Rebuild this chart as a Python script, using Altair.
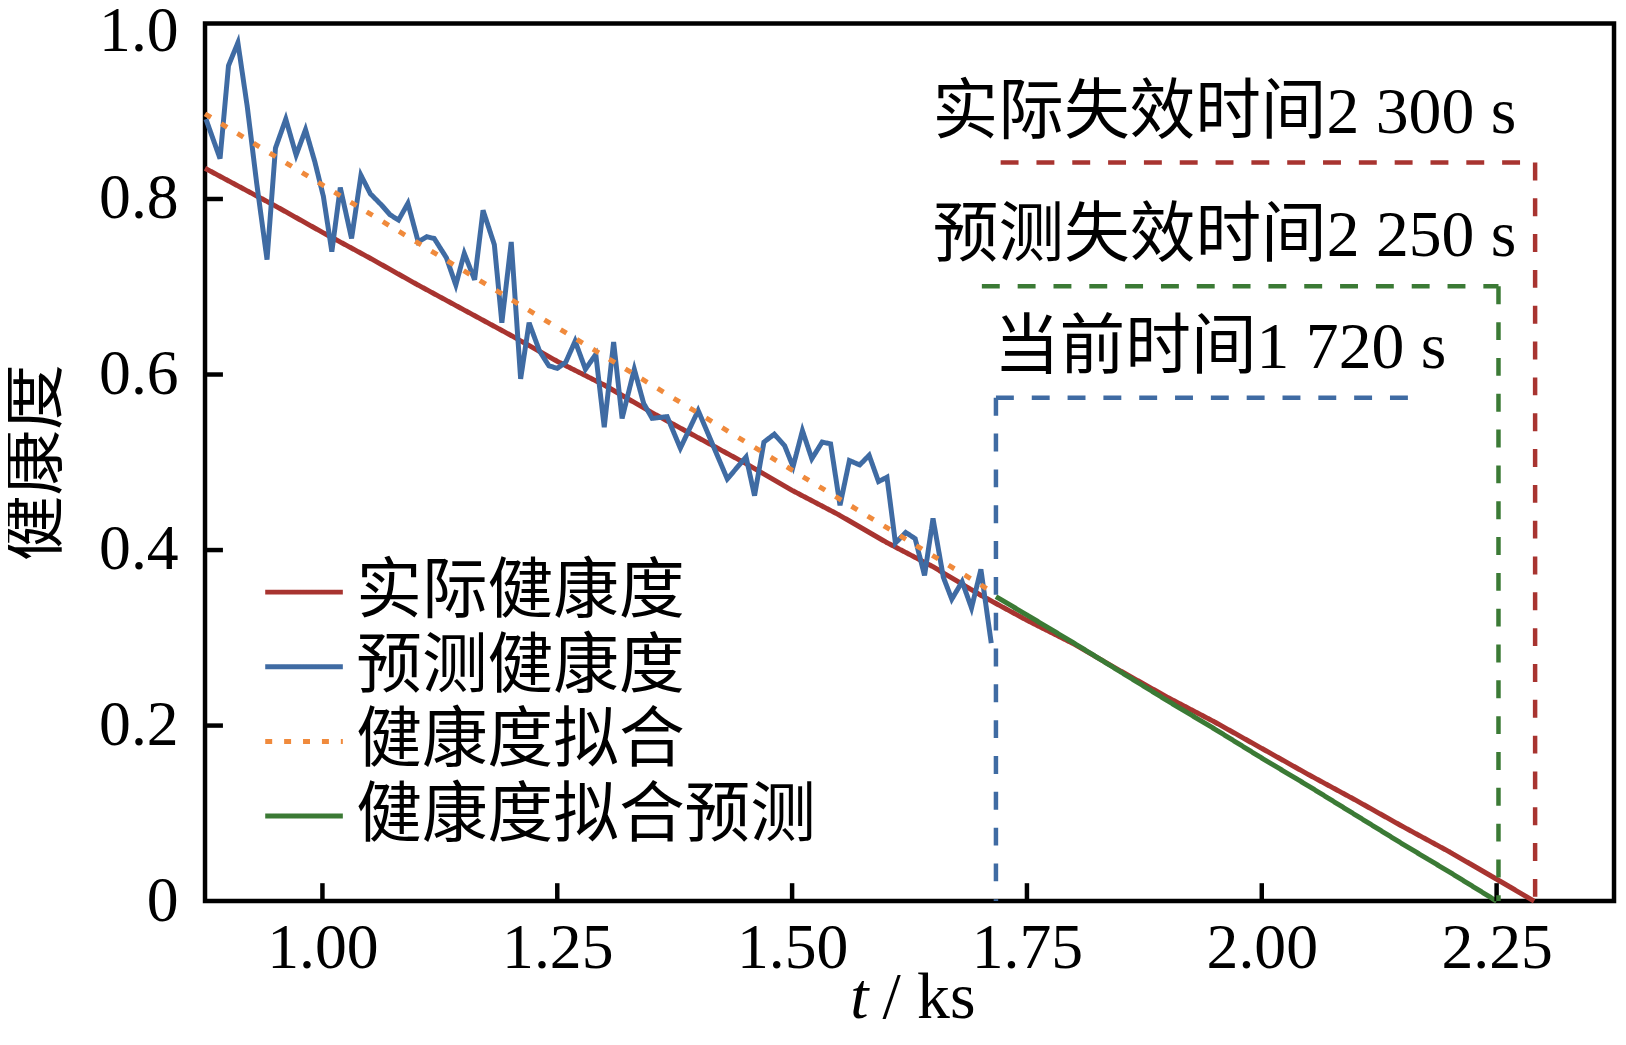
import altair as alt
import pandas as pd

# ---------------- data (t in ks, health index) ----------------
series_names = ["实际健康度", "预测健康度", "健康度拟合", "健康度拟合预测"]
series_colors = ["#A83430", "#3F6BA3", "#F08A3C", "#3B7A35"]

actual_t = [0.875, 0.95, 1.00, 1.05, 1.10, 1.15, 1.20, 1.25, 1.30, 1.35, 1.40,
            1.45, 1.50, 1.55, 1.60, 1.65, 1.70, 1.75, 1.80, 1.85, 1.90, 1.95,
            2.00, 2.05, 2.10, 2.15, 2.20, 2.25, 2.29]
actual_h = [0.835, 0.792, 0.762, 0.733, 0.703, 0.674, 0.645, 0.615, 0.588, 0.557, 0.528,
            0.499, 0.468, 0.440, 0.409, 0.381, 0.349, 0.320, 0.293, 0.262, 0.232, 0.204,
            0.174, 0.144, 0.115, 0.085, 0.056, 0.025, 0.0]

pred_t = [0.876, 0.891, 0.900, 0.910, 0.920, 0.930, 0.941, 0.950, 0.961, 0.972,
          0.982, 0.992, 1.001, 1.010, 1.019, 1.031, 1.041, 1.051, 1.063, 1.072,
          1.081, 1.091, 1.102, 1.111, 1.119, 1.132, 1.142, 1.151, 1.162, 1.171,
          1.183, 1.191, 1.201, 1.211, 1.220, 1.231, 1.241, 1.250, 1.259, 1.269,
          1.280, 1.291, 1.300, 1.310, 1.319, 1.332, 1.342, 1.351, 1.367, 1.381,
          1.400, 1.431, 1.451, 1.460, 1.470, 1.481, 1.492, 1.501, 1.511, 1.521,
          1.532, 1.541, 1.551, 1.561, 1.572, 1.582, 1.592, 1.601, 1.610, 1.621,
          1.631, 1.641, 1.650, 1.661, 1.670, 1.681, 1.691, 1.701, 1.712]
pred_h = [0.891, 0.846, 0.952, 0.978, 0.905, 0.818, 0.731, 0.858, 0.891, 0.850,
          0.879, 0.842, 0.803, 0.740, 0.813, 0.755, 0.827, 0.806, 0.793, 0.782,
          0.776, 0.795, 0.751, 0.757, 0.755, 0.733, 0.702, 0.738, 0.708, 0.787,
          0.748, 0.659, 0.751, 0.595, 0.659, 0.627, 0.610, 0.607, 0.614, 0.638,
          0.606, 0.623, 0.540, 0.637, 0.550, 0.606, 0.567, 0.550, 0.552, 0.516,
          0.559, 0.481, 0.506, 0.462, 0.523, 0.532, 0.519, 0.495, 0.536, 0.504,
          0.523, 0.521, 0.451, 0.502, 0.497, 0.508, 0.478, 0.483, 0.408, 0.420,
          0.413, 0.371, 0.436, 0.369, 0.344, 0.364, 0.334, 0.378, 0.294]

fit_t = [0.875, 1.0, 1.1, 1.2, 1.3, 1.4, 1.5, 1.6, 1.7, 1.717]
fit_h = [0.897, 0.816, 0.751, 0.686, 0.621, 0.556, 0.491, 0.426, 0.361, 0.349]

fitpred_t = [1.717, 1.75, 1.80, 1.85, 1.90, 1.95, 2.00, 2.05, 2.10, 2.15, 2.20, 2.25]
fitpred_h = [0.347, 0.326, 0.294, 0.261, 0.228, 0.196, 0.163, 0.131, 0.098, 0.065, 0.033, 0.0]

event_labels = ["当前时间1 720 s", "预测失效时间2 250 s", "实际失效时间2 300 s"]
event_t = [1.717, 2.252, 2.291]
event_level = [0.5735, 0.7005, 0.8416]
hline_start = [1.717, 1.702, 1.722]
hline_end = [2.156, 2.252, 2.291]

x_ticks = [1.00, 1.25, 1.50, 1.75, 2.00, 2.25]
y_ticks = [0, 0.2, 0.4, 0.6, 0.8, 1.0]

# ---------------- build tables ----------------
frames = []
for name, ts, hs in zip(series_names,
                        [actual_t, pred_t, fit_t, fitpred_t],
                        [actual_h, pred_h, fit_h, fitpred_h]):
    frames.append(pd.DataFrame({"t": ts, "h": hs, "series": name}))
lines_df = pd.concat(frames, ignore_index=True)

ev_df = pd.DataFrame({"label": event_labels, "t": event_t, "level": event_level,
                      "hs": hline_start, "he": hline_end})
xt_df = pd.DataFrame({"tick": x_ticks})
yt_df = pd.DataFrame({"tick": [v for v in y_ticks if 0 < v < 1]})

FONT = "'Liberation Serif', 'Noto Sans CJK SC'"
W, H = 1416, 882
FS = 64      # tick labels
FT = 66      # titles, legend, annotations

xscale = alt.Scale(domain=[0.875, 2.375], nice=False, zero=False)
yscale = alt.Scale(domain=[0, 1], nice=False, zero=False)

x_axis = alt.Axis(orient="bottom", values=x_ticks, format=".2f", title="/ ks",
                  labelFont=FONT, labelFontSize=FS, labelColor="black",
                  labelBaseline="alphabetic", labelPadding=67, labelOverlap=False,
                  labelFlush=False, ticks=False, domain=False, grid=False,
                  titleFont=FONT, titleFontSize=FT, titleFontWeight="normal",
                  titleColor="black", titleX=727, titleY=117, titleAlign="center",
                  titleBaseline="alphabetic", titleAnchor="start")
y_axis = alt.Axis(values=y_ticks,
                  labelExpr="datum.value == 0 ? '0' : format(datum.value, '.1f')",
                  labelFont=FONT, labelFontSize=FS, labelColor="black",
                  labelPadding=27, labelOverlap=False, labelFlush=False,
                  labelOffset={"condition": {"test": "datum.value == 1", "value": 8},
                               "value": 0},
                  ticks=False, domain=False, grid=False,
                  title="健康度", titleFont=FONT, titleFontSize=FT,
                  titleFontWeight="normal", titleColor="black",
                  titleX=-170, titleY=441, titleAngle=270, titleAlign="center",
                  titleBaseline="middle", titleAnchor="start")

legend = alt.Legend(orient="none", legendX=58, legendY=530, title=None,
                    symbolType="stroke", symbolSize=6084, symbolStrokeWidth=5,
                    labelFont=FONT, labelFontSize=FT, labelColor="black",
                    labelOffset=11, rowPadding=-4, padding=0, labelLimit=0)

lines = alt.Chart(lines_df).mark_line(strokeWidth=5).encode(
    x=alt.X("t:Q", scale=xscale, axis=x_axis),
    y=alt.Y("h:Q", scale=yscale, axis=y_axis),
    color=alt.Color("series:N", scale=alt.Scale(domain=series_names, range=series_colors),
                    legend=legend),
    strokeDash=alt.StrokeDash("series:N",
                              scale=alt.Scale(domain=series_names,
                                              range=[[1, 0], [1, 0], [7, 12], [1, 0]]),
                              legend=legend),
)

# inward ticks (x) + italic "t" title via a second bottom axis
xticks_layer = alt.Chart(xt_df).mark_rule(color="black", strokeWidth=4.5).encode(
    x=alt.X("tick:Q", scale=xscale,
            axis=alt.Axis(orient="bottom", title="t", titleFontStyle="italic",
                          titleFont=FONT, titleFontSize=FT, titleFontWeight="normal",
                          titleColor="black", titleX=657, titleY=117,
                          titleAlign="center", titleBaseline="alphabetic",
                          titleAnchor="start", labels=False, ticks=False,
                          domain=False, grid=False)),
    y=alt.value(H - 18), y2=alt.value(H),
)
yticks_layer = alt.Chart(yt_df).mark_rule(color="black", strokeWidth=4.5).encode(
    y=alt.Y("tick:Q", scale=yscale, axis=None),
    x=alt.value(0), x2=alt.value(18),
)

ev_colors = [series_colors[1], series_colors[3], series_colors[0]]
ev_align = ["left", "right", "right"]
ev_dx = [-2, 18, -19]

ev_layers = []
for i in range(len(event_labels)):
    d = ev_df.iloc[[i]]
    base = alt.Chart(d)
    v = base.mark_rule(color=ev_colors[i], strokeWidth=4.5, strokeDash=[18, 18]).encode(
        x=alt.X("t:Q", scale=xscale, axis=None),
        y=alt.Y("level:Q", scale=yscale, axis=None),
        y2=alt.datum(0),
    )
    hz = base.mark_rule(color=ev_colors[i], strokeWidth=4.5, strokeDash=[18, 18]).encode(
        x=alt.X("hs:Q", scale=xscale, axis=None),
        x2="he:Q",
        y=alt.Y("level:Q", scale=yscale, axis=None),
    )
    tx = base.mark_text(align=ev_align[i], baseline="alphabetic", dx=ev_dx[i], dy=-30,
                        font=FONT, fontSize=FT, color="black").encode(
        x=alt.X("t:Q", scale=xscale, axis=None),
        y=alt.Y("level:Q", scale=yscale, axis=None),
        text="label:N",
    )
    ev_layers += [v, hz, tx]

chart = alt.layer(lines, xticks_layer, yticks_layer, *ev_layers).resolve_axis(
    x="independent", y="independent"
).properties(
    width=W, height=H,
    autosize=alt.AutoSizeParams(type="none"),
    padding={"left": 198, "top": 13, "right": 4, "bottom": 127},
    background="white",
).configure_view(stroke="black", strokeWidth=4.5)

chart.save("out.html", embed_options={"renderer": "svg", "actions": False})
